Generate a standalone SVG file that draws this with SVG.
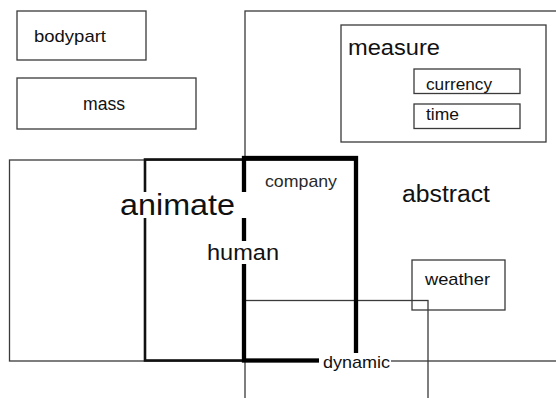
<svg xmlns="http://www.w3.org/2000/svg" width="556" height="398" viewBox="0 0 556 398">
<style>
text{font-family:"Liberation Sans",Arial,sans-serif;fill:#111}
.thin{fill:none;stroke:#3a3a3a;stroke-width:1.3}
.med{fill:none;stroke:#111;stroke-width:2.6}
.thick{fill:none;stroke:#000;stroke-width:4.3}
.bg{fill:#fff}
</style>
<rect width="556" height="398" fill="#fff"/>
<g id="bodypart"><rect class="thin" x="17" y="11" width="129" height="49"/><text x="34" y="42" font-size="17" textLength="72" lengthAdjust="spacingAndGlyphs">bodypart</text></g>
<g id="mass"><rect class="thin" x="17" y="78" width="179" height="51"/><text x="83" y="110" font-size="17.5" textLength="42" lengthAdjust="spacingAndGlyphs">mass</text></g>
<g id="abstract"><rect class="thin" x="245" y="11" width="330" height="350"/><text x="402" y="202" font-size="23" textLength="88" lengthAdjust="spacingAndGlyphs">abstract</text></g>
<g id="measure"><rect class="thin" x="341" y="25" width="205" height="117"/><text x="348" y="55" font-size="22" textLength="92" lengthAdjust="spacingAndGlyphs">measure</text></g>
<g id="currency"><rect class="thin" x="414" y="69" width="106" height="24.5"/><text x="426" y="90" font-size="17" textLength="66" lengthAdjust="spacingAndGlyphs">currency</text></g>
<g id="time"><rect class="thin" x="414" y="104" width="106" height="24.5"/><text x="426" y="120" font-size="17" textLength="33" lengthAdjust="spacingAndGlyphs">time</text></g>
<g id="weather"><rect class="thin" x="412" y="260" width="93" height="50"/><text x="425" y="285" font-size="17" textLength="65" lengthAdjust="spacingAndGlyphs">weather</text></g>
<g id="dynamic-shape"><rect class="thin" x="245" y="300.5" width="183" height="120"/></g>
<g id="animate-shape"><rect class="thin" x="9.5" y="160" width="346" height="201"/></g>
<g id="human-shape"><rect class="med" x="145" y="159.5" width="211" height="201"/></g>
<g id="company"><rect class="thick" x="244" y="158" width="112" height="202.5"/><text x="265" y="187" font-size="17" textLength="72" lengthAdjust="spacingAndGlyphs" style="fill:#2a2a2a">company</text></g>
<g id="animate-label"><rect class="bg" x="117" y="192" width="131" height="26"/><text x="120" y="214.5" font-size="30" textLength="115" lengthAdjust="spacingAndGlyphs">animate</text></g>
<g id="human-label"><rect class="bg" x="205" y="241" width="76" height="23"/><text x="207" y="260" font-size="22" textLength="72" lengthAdjust="spacingAndGlyphs">human</text></g>
<g id="dynamic-label"><rect class="bg" x="319" y="353" width="72" height="19"/><text x="323" y="368" font-size="17" textLength="67" lengthAdjust="spacingAndGlyphs">dynamic</text></g>
<g id="connectors"></g>
</svg>
